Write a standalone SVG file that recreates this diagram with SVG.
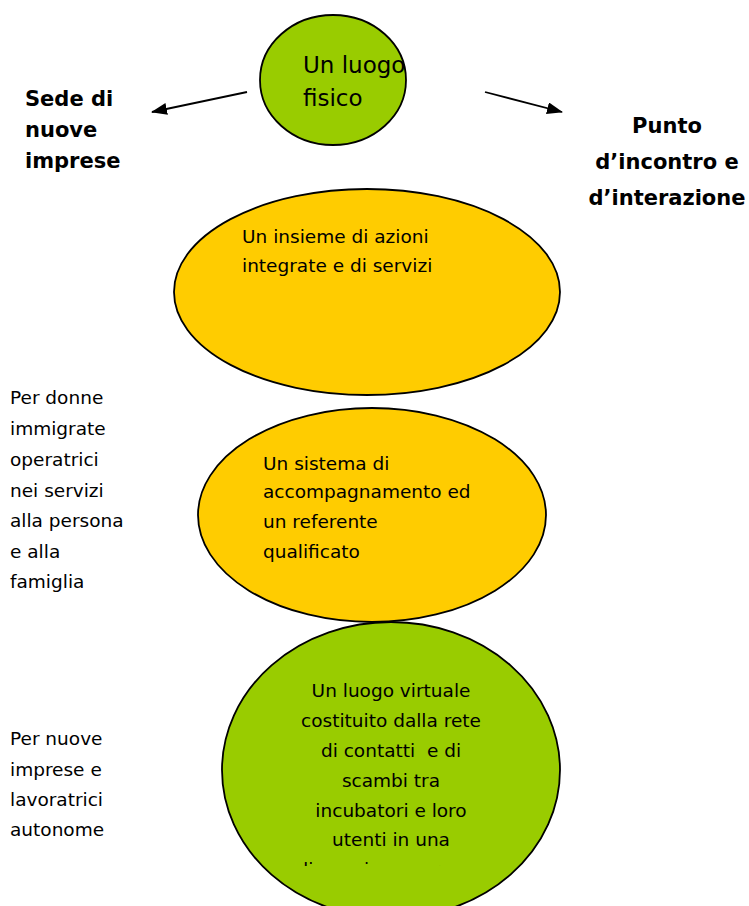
<svg xmlns="http://www.w3.org/2000/svg" width="749" height="906" viewBox="0 0 749 906">
<style>
.t{font-family:"DejaVu Sans","Liberation Sans",sans-serif;font-size:18.5px;fill:#000}
.b{font-family:"DejaVu Sans","Liberation Sans",sans-serif;font-size:21px;font-weight:bold;fill:#000}
.big{font-size:23px}
.g{fill:#99CC00;stroke:#000;stroke-width:1.8}
.y{fill:#FFCC00;stroke:#000;stroke-width:1.8}
.c{stroke:#000;stroke-width:1.8;fill:none}
</style>
<defs>
<marker id="ah" viewBox="0 0 16 12" refX="15" refY="6" markerWidth="16" markerHeight="12" markerUnits="userSpaceOnUse" orient="auto">
<path d="M0,0 L16,6 L0,12 Z" fill="#000"/>
</marker>
<clipPath id="clip"><rect x="0" y="0" width="749" height="866"/></clipPath>
</defs>
<rect width="749" height="906" fill="#fff"/>
<g id="connectors">
<line class="c" x1="247" y1="92" x2="152" y2="112" marker-end="url(#ah)"/>
<line class="c" x1="485" y1="92" x2="562" y2="112" marker-end="url(#ah)"/>
</g>
<g id="luogo-fisico">
<ellipse class="g" cx="333" cy="80" rx="73" ry="65"/>
<text class="t big" x="303" y="73">Un luogo</text>
<text class="t big" x="303" y="106">fisico</text>
</g>
<g id="sede">
<text class="b" x="25" y="106">Sede di</text>
<text class="b" x="25" y="137">nuove</text>
<text class="b" x="25" y="168">imprese</text>
</g>
<g id="punto">
<text class="b" x="667" y="133" text-anchor="middle">Punto</text>
<text class="b" x="667" y="169" text-anchor="middle">d’incontro e</text>
<text class="b" x="667" y="205" text-anchor="middle">d’interazione</text>
</g>
<g id="azioni">
<ellipse class="y" cx="367" cy="292" rx="193" ry="103"/>
<text class="t" x="242" y="243">Un insieme di azioni</text>
<text class="t" x="242" y="272">integrate e di servizi</text>
</g>
<g id="donne">
<text class="t" x="10" y="404">Per donne</text>
<text class="t" x="10" y="435">immigrate</text>
<text class="t" x="10" y="466">operatrici</text>
<text class="t" x="10" y="497">nei servizi</text>
<text class="t" x="10" y="527">alla persona</text>
<text class="t" x="10" y="558">e alla</text>
<text class="t" x="10" y="588">famiglia</text>
</g>
<g id="sistema">
<ellipse class="y" cx="372" cy="515" rx="174" ry="107"/>
<text class="t" x="263" y="470">Un sistema di</text>
<text class="t" x="263" y="498">accompagnamento ed</text>
<text class="t" x="263" y="528">un referente</text>
<text class="t" x="263" y="558">qualificato</text>
</g>
<g id="nuove">
<text class="t" x="10" y="745">Per nuove</text>
<text class="t" x="10" y="776">imprese e</text>
<text class="t" x="10" y="806">lavoratrici</text>
<text class="t" x="10" y="836">autonome</text>
</g>
<g id="virtuale">
<ellipse class="g" cx="391" cy="770" rx="169" ry="148"/>
<g text-anchor="middle">
<text class="t" x="391" y="697">Un luogo virtuale</text>
<text class="t" x="391" y="727">costituito dalla rete</text>
<text class="t" x="391" y="757" xml:space="preserve">di contatti  e di</text>
<text class="t" x="391" y="787">scambi tra</text>
<text class="t" x="391" y="817">incubatori e loro</text>
<text class="t" x="391" y="846">utenti in una</text>
<text class="t" x="391" y="876" clip-path="url(#clip)">dimensione europea</text>
</g>
</g>
</svg>
